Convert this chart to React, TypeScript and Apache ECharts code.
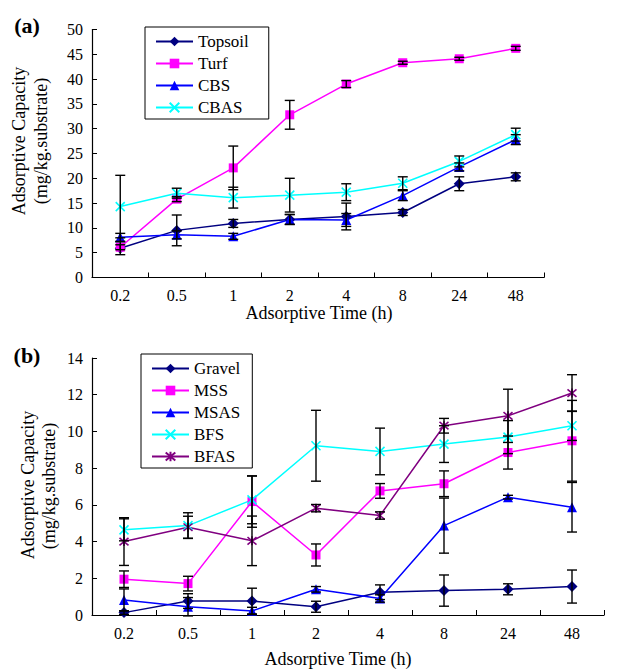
import React, { useEffect, useRef } from "react";
import * as echarts from "echarts";

const categories = ["0.2", "0.5", "1", "2", "4", "8", "24", "48"];

// Panel (a)
const topsoil = [5.9, 9.5, 10.9, 11.7, 12.3, 13.1, 18.9, 20.3];
const topsoilErr = [1.3, 3.1, 0.8, 1.0, 2.7, 0.6, 1.4, 0.8];
const turf = [6.1, 15.8, 22.1, 32.8, 39.0, 43.3, 44.1, 46.2];
const turfErr = [0.5, 0.5, 4.4, 2.9, 0.7, 0.3, 0.3, 0.4];
const cbs = [8.1, 8.6, 8.3, 11.7, 11.6, 16.5, 22.3, 27.8];
const cbsErr = [0.8, 0.8, 0.6, 1.0, 1.3, 1.0, 0.8, 1.0];
const cbas = [14.3, 17.0, 16.1, 16.6, 17.2, 19.0, 23.4, 28.8];
const cbasErr = [6.3, 1.0, 2.1, 3.4, 1.7, 1.3, 1.1, 1.3];

// Panel (b)
const gravel = [0.13, 0.76, 0.76, 0.45, 1.24, 1.33, 1.4, 1.55];
const gravelErr = [0.1, 0.4, 0.7, 0.3, 0.4, 0.85, 0.3, 0.9];
const mss = [1.95, 1.71, 6.18, 3.27, 6.76, 7.15, 8.85, 9.49];
const mssErr = [0.45, 0.4, 1.4, 0.6, 0.4, 0.7, 0.9, 2.2];
const msas = [0.82, 0.45, 0.22, 1.4, 0.9, 4.87, 6.42, 5.87];
const msasErr = [0.6, 0.5, 0.2, 0.15, 0.2, 1.5, 0.1, 1.35];
const bfs = [4.64, 4.87, 6.27, 9.22, 8.91, 9.31, 9.69, 10.31];
const bfsErr = [0.6, 0.7, 1.3, 1.93, 1.27, 1.0, 0.9, 0.8];
const bfas = [4.0, 4.78, 4.04, 5.82, 5.42, 10.31, 10.85, 12.09];
const bfasErr = [1.3, 0.6, 1.35, 0.2, 0.2, 0.4, 1.45, 1.0];

const NAVY = "#000080";
const MAGENTA = "#FF00FF";
const BLUE = "#0000FF";
const CYAN = "#00FFFF";
const PURPLE = "#800080";
const FONT = "'Liberation Serif', 'Times New Roman', Times, 'DejaVu Serif', serif";

const X_SYMBOL = "path://M0,0L10,10M10,0L0,10";
const STAR_SYMBOL = "path://M0,0L10,10M10,0L0,10M5,-1L5,11";

function lineSeries(name: string, data: number[], color: string, symbol: string, symbolSize: number, axis: number, stroke = false) {
  return {
    type: "line",
    name,
    xAxisIndex: axis,
    yAxisIndex: axis,
    data,
    symbol,
    symbolSize,
    showSymbol: true,
    lineStyle: { color, width: 1.5 },
    itemStyle: stroke
      ? { color: "rgba(0,0,0,0)", borderColor: color, borderWidth: 1.6 }
      : { color, borderWidth: 0 },
    z: 4,
  };
}

function errorSeries(name: string, values: number[], errs: number[], axis: number) {
  return {
    type: "custom",
    name: name + " error",
    xAxisIndex: axis,
    yAxisIndex: axis,
    data: values.map((v, i) => [i, v, errs[i]]),
    encode: { x: 0, y: 1 },
    z: 5,
    renderItem: (params: any, api: any) => {
      const i = api.value(0);
      const v = api.value(1);
      const e = api.value(2);
      const top = api.coord([i, v + e]);
      const bot = api.coord([i, v - e]);
      const hw = 5;
      const style = { stroke: "#000", lineWidth: 1.4 };
      return {
        type: "group",
        children: [
          { type: "line", shape: { x1: top[0], y1: top[1], x2: bot[0], y2: bot[1] }, style },
          { type: "line", shape: { x1: top[0] - hw, y1: top[1], x2: top[0] + hw, y2: top[1] }, style },
          { type: "line", shape: { x1: bot[0] - hw, y1: bot[1], x2: bot[0] + hw, y2: bot[1] }, style },
        ],
      };
    },
  };
}

function xAxis(gridIndex: number) {
  return {
    type: "category",
    gridIndex,
    data: categories,
    boundaryGap: true,
    axisLine: { show: true, lineStyle: { color: "#000", width: 1.2 } },
    axisTick: { show: true, inside: true, length: 5, lineStyle: { color: "#000" } },
    axisLabel: { color: "#000", fontFamily: FONT, fontSize: 16, margin: 10 },
    splitLine: { show: false },
  };
}

function yAxis(gridIndex: number, max: number, interval: number) {
  return {
    type: "value",
    gridIndex,
    min: 0,
    max,
    interval,
    axisLine: { show: true, lineStyle: { color: "#000", width: 1.2 } },
    axisTick: { show: true, inside: true, length: 5, lineStyle: { color: "#000" } },
    axisLabel: { color: "#000", fontFamily: FONT, fontSize: 16, margin: 9 },
    splitLine: { show: false },
  };
}

function legend(names: string[], left: number, top: number, padRight: number) {
  return {
    data: names,
    orient: "vertical",
    left,
    top,
    itemWidth: 37,
    itemHeight: 12,
    itemGap: 5,
    padding: [6, padRight, 3, 10],
    borderColor: "#000",
    borderWidth: 1,
    backgroundColor: "#fff",
    textStyle: { color: "#000", fontFamily: FONT, fontSize: 17, lineHeight: 17 },
  };
}

const titleText = (text: string, x: number, y: number, size: number, rotate = false, bold = false) => ({
  type: "text",
  x,
  y,
  rotation: rotate ? Math.PI / 2 : 0,
  style: {
    text,
    fill: "#000",
    fontFamily: FONT,
    fontSize: size,
    fontWeight: bold ? "bold" : "normal",
    textAlign: "center",
    textVerticalAlign: "middle",
  },
});

export default function App() {
  const ref = useRef<HTMLDivElement>(null);
  useEffect(() => {
    if (!ref.current) return;
    const chart = echarts.init(ref.current, null, { renderer: "svg" });
    chart.setOption({
      animation: false,
      backgroundColor: "#fff",
      textStyle: { fontFamily: FONT },
      grid: [
        { left: 92, top: 29.5, width: 452, height: 248 },
        { left: 92, top: 358, width: 512, height: 257 },
      ],
      xAxis: [xAxis(0), xAxis(1)],
      yAxis: [yAxis(0, 50, 5), yAxis(1, 14, 2)],
      legend: [
        legend(["Topsoil", "Turf", "CBS", "CBAS"], 145, 27, 20),
        legend(["Gravel", "MSS", "MSAS", "BFS", "BFAS"], 141, 354, 12),
      ],
      series: [
        lineSeries("Topsoil", topsoil, NAVY, "diamond", 11, 0),
        lineSeries("Turf", turf, MAGENTA, "rect", 9, 0),
        lineSeries("CBS", cbs, BLUE, "triangle", 10, 0),
        lineSeries("CBAS", cbas, CYAN, X_SYMBOL, 9, 0, true),
        errorSeries("Topsoil", topsoil, topsoilErr, 0),
        errorSeries("Turf", turf, turfErr, 0),
        errorSeries("CBS", cbs, cbsErr, 0),
        errorSeries("CBAS", cbas, cbasErr, 0),
        lineSeries("Gravel", gravel, NAVY, "diamond", 11, 1),
        lineSeries("MSS", mss, MAGENTA, "rect", 9, 1),
        lineSeries("MSAS", msas, BLUE, "triangle", 10, 1),
        lineSeries("BFS", bfs, CYAN, X_SYMBOL, 9, 1, true),
        lineSeries("BFAS", bfas, PURPLE, STAR_SYMBOL, 9, 1, true),
        errorSeries("Gravel", gravel, gravelErr, 1),
        errorSeries("MSS", mss, mssErr, 1),
        errorSeries("MSAS", msas, msasErr, 1),
        errorSeries("BFS", bfs, bfsErr, 1),
        errorSeries("BFAS", bfas, bfasErr, 1),
      ],
      graphic: [
        titleText("(a)", 27, 25, 22, false, true),
        titleText("(b)", 27, 355, 22, false, true),
        titleText("Adsorptive Capacity", 19, 141, 18, true),
        titleText("(mg/kg.substrate)", 41, 141, 18, true),
        titleText("Adsorptive Capacity", 28, 485, 18, true),
        titleText("(mg/kg.substrate)", 49, 486, 18, true),
        titleText("Adsorptive Time (h)", 319, 313, 18),
        titleText("Adsorptive Time (h)", 338, 659, 18),
      ],
    });
    return () => chart.dispose();
  }, []);
  return (
    <div
      ref={ref}
      style={{ position: "fixed", left: 0, top: 0, width: 624, height: 669, background: "#fff" }}
    />
  );
}
